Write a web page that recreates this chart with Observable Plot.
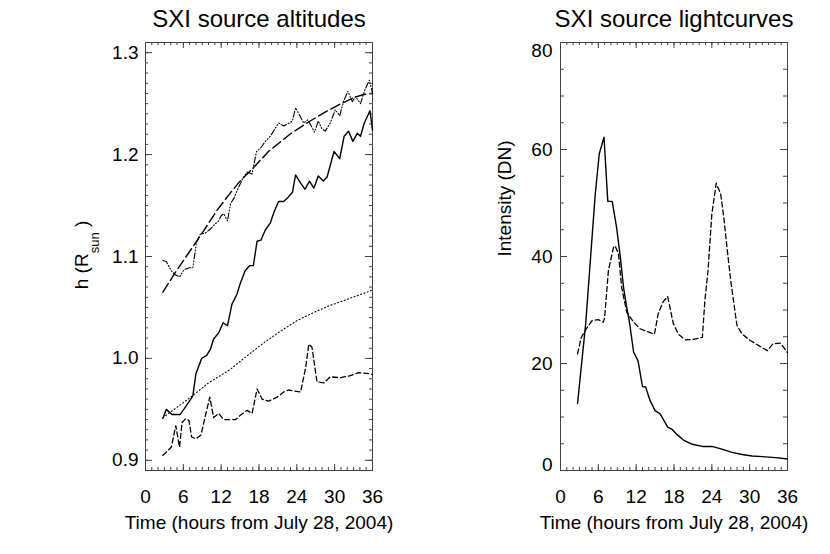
<!DOCTYPE html>
<html><head><meta charset="utf-8">
<script src="https://cdn.jsdelivr.net/npm/d3@7"></script>
<script src="https://cdn.jsdelivr.net/npm/@observablehq/plot@0.6"></script>
<style>
body{margin:0;background:#fff;}
#wrap{position:relative;width:830px;height:554px;background:#fff;}
#left,#right{position:absolute;top:0;}
#left{left:0;} #right{left:415px;}
</style></head><body>
<div id="wrap"><div id="left"></div><div id="right"></div></div>
<script>
// ---------- DATA (time in hours from July 28, 2004) ----------
// Left panel: SXI source altitudes, h in R_sun
const altSolid = [[2.76,0.941],[3.3,0.950],[4.2,0.945],[5.5,0.945],[6.3,0.952],[7.5,0.963],[8.0,0.985],[8.9,1.000],[9.7,1.003],[10.3,1.009],[10.8,1.019],[11.6,1.025],[12.3,1.035],[13.0,1.032],[13.7,1.053],[14.5,1.063],[15.0,1.073],[15.8,1.086],[16.5,1.091],[17.1,1.091],[17.7,1.115],[18.3,1.116],[19.0,1.126],[19.8,1.133],[20.4,1.144],[21.1,1.154],[21.9,1.154],[22.6,1.158],[23.3,1.163],[23.8,1.180],[24.6,1.172],[25.3,1.166],[26.0,1.174],[26.7,1.167],[27.4,1.179],[28.2,1.174],[28.8,1.178],[29.9,1.203],[30.8,1.196],[31.5,1.218],[32.2,1.223],[32.9,1.213],[33.6,1.221],[34.1,1.218],[34.7,1.231],[35.6,1.243],[36.0,1.224]];
const altDashDot = [[2.76,1.096],[3.3,1.095],[4.1,1.086],[4.7,1.082],[5.4,1.080],[6.1,1.087],[7.0,1.089],[7.5,1.089],[8.1,1.114],[8.7,1.122],[9.5,1.123],[10.3,1.127],[10.9,1.131],[11.6,1.135],[12.0,1.140],[12.4,1.142],[13.0,1.135],[13.5,1.152],[14.0,1.157],[14.7,1.167],[15.4,1.176],[16.1,1.183],[16.9,1.181],[17.6,1.203],[18.2,1.206],[19.0,1.213],[19.8,1.218],[20.3,1.223],[21.1,1.231],[21.9,1.228],[22.8,1.231],[23.3,1.233],[23.8,1.246],[24.4,1.239],[25.1,1.231],[25.7,1.234],[26.3,1.228],[26.8,1.222],[27.4,1.233],[28.0,1.225],[28.5,1.223],[29.3,1.231],[30.1,1.244],[30.8,1.238],[31.4,1.252],[32.1,1.262],[32.8,1.252],[33.3,1.257],[34.1,1.250],[34.7,1.262],[35.5,1.273],[36.0,1.260]];
const altLongDash = [[2.76,1.065],[4.9,1.086],[7.9,1.113],[9.2,1.125],[11.3,1.145],[13.4,1.162],[15.0,1.174],[17.1,1.187],[19.5,1.203],[22.9,1.220],[25.6,1.231],[28.3,1.241],[31.0,1.250],[33.1,1.256],[34.6,1.259],[36.0,1.260]];
const altDotted = [[2.76,0.942],[5.0,0.952],[7.6,0.964],[10.0,0.976],[13.4,0.989],[16.0,1.002],[18.7,1.015],[21.0,1.025],[24.0,1.037],[27.0,1.046],[29.3,1.052],[32.0,1.058],[36.0,1.067]];
const altDashed = [[2.76,0.905],[3.3,0.908],[4.1,0.913],[4.8,0.934],[5.4,0.913],[5.8,0.937],[6.4,0.941],[6.9,0.939],[7.3,0.923],[8.0,0.921],[8.8,0.925],[9.7,0.949],[10.2,0.962],[10.8,0.942],[11.6,0.946],[12.4,0.940],[14.3,0.940],[15.0,0.944],[16.1,0.949],[16.9,0.946],[17.7,0.970],[18.5,0.960],[19.5,0.958],[20.9,0.962],[21.9,0.967],[22.7,0.969],[24.6,0.967],[25.4,0.991],[25.9,1.014],[26.4,1.011],[27.2,0.977],[28.3,0.976],[29.3,0.982],[30.9,0.981],[32.5,0.983],[33.8,0.986],[35.7,0.985],[36.0,0.984]];

// Right panel: SXI source lightcurves, intensity in DN
const lcSolid = [[2.7,12.5],[4.0,27.5],[5.5,51.5],[6.15,59.2],[6.9,62.3],[7.5,50.3],[8.2,50.3],[8.9,45.4],[9.5,39.8],[10.0,34.2],[10.5,30.5],[10.9,28.0],[11.6,22.1],[12.3,20.5],[13.0,15.7],[13.5,15.6],[14.2,13.1],[15.0,11.2],[15.8,10.6],[17.0,8.1],[17.6,7.8],[18.5,6.7],[19.5,5.7],[20.9,4.9],[22.5,4.5],[24.0,4.5],[25.6,4.0],[27.2,3.4],[28.8,3.0],[30.4,2.7],[32.0,2.6],[34.1,2.4],[35.7,2.2],[36.0,2.2]];
const lcDashed = [[2.7,21.8],[3.3,24.9],[4.1,26.5],[5.0,28.0],[6.0,28.2],[6.8,27.7],[7.0,28.6],[7.6,37.4],[8.4,41.7],[8.65,42.0],[9.2,40.5],[9.7,34.2],[10.5,29.6],[11.6,27.7],[12.6,26.5],[13.7,26.0],[14.9,25.5],[15.5,29.3],[16.3,31.6],[17.0,32.5],[17.9,27.4],[18.7,25.5],[19.8,24.4],[21.1,24.5],[22.5,24.9],[22.9,31.8],[23.4,37.4],[24.0,47.9],[24.7,53.7],[25.4,51.7],[25.9,47.3],[26.4,41.7],[27.0,35.5],[27.8,28.6],[28.0,27.1],[28.8,25.5],[30.1,24.3],[31.5,23.3],[32.8,22.4],[33.7,23.7],[34.9,23.8],[35.7,22.5],[36.0,22.0]];

// Axes / ticks
const xDomain = [0, 36];
const xMajor = [0, 6, 12, 18, 24, 30, 36];
const xMinor = d3.range(0, 37, 1);
const altDomain = [0.89, 1.31];
const altMajor = [0.9, 1.0, 1.1, 1.2, 1.3];
const altMinor = d3.range(89, 132).map(v => v / 100);
const lcDomain = [0, 80];
const lcMajor = [0, 20, 40, 60, 80];
const lcMinor = d3.range(0, 81, 5);

const titles = ["SXI source altitudes", "SXI source lightcurves"];
const xLabel = "Time (hours from July 28, 2004)";
const lcYLabel = "Intensity (DN)";

// ---------- DRAWING ----------
const FONT = '"Liberation Sans", Arial, Helvetica, sans-serif';
const AX = "#444";

// inward tick marks on all four sides, drawn as zero-length rules extended by insets
function tickMarks(yDomain, yMajor, yMinor, minorY) {
  const [y0, y1] = yDomain, [x0, x1] = xDomain;
  const tx = (data, len) => [
    Plot.ruleX(data, {x: d => d, y1: y0, y2: y0, insetBottom: len, stroke: AX}),
    Plot.ruleX(data, {x: d => d, y1: y1, y2: y1, insetTop: len, stroke: AX})
  ];
  const ty = (data, len) => [
    Plot.ruleY(data, {y: d => d, x1: x0, x2: x0, insetLeft: len, stroke: AX}),
    Plot.ruleY(data, {y: d => d, x1: x1, x2: x1, insetRight: len, stroke: AX})
  ];
  return [...tx(xMinor, 3), ...tx(xMajor, 6), ...ty(yMinor, minorY), ...ty(yMajor, 7),
    Plot.axisX(xMajor, {anchor: "bottom", tickSize: 0, tickPadding: 19, fontSize: 19, label: null})];
}

function base(yDomain, marks) {
  return Plot.plot({
    width: 415, height: 554,
    marginLeft: 145, marginRight: 43, marginTop: 42, marginBottom: 84,
    x: {domain: xDomain},
    y: {domain: yDomain},
    style: {fontFamily: FONT, fontSize: "19px", background: "white", color: "black", overflow: "visible"},
    marks
  });
}

const lineOpts = (dash, w) => ({x: d => d[0], y: d => d[1], stroke: "black", strokeWidth: w, strokeDasharray: dash});

// Left panel
const left = base(altDomain, [
  Plot.frame({stroke: AX}),
  Plot.line(altDotted, lineOpts("1,2.5", 1.1)),
  Plot.line(altDashed, lineOpts("5,3", 1.3)),
  Plot.line(altLongDash, lineOpts("10,4", 1.4)),
  Plot.line(altDashDot, lineOpts("6,2,1,2,1,2,1,2", 1.1)),
  Plot.line(altSolid, lineOpts(null, 1.4)),
  ...tickMarks(altDomain, altMajor, altMinor, 3),
  Plot.axisY(altMajor, {anchor: "left", tickSize: 0, tickPadding: 7, fontSize: 19, tickFormat: d3.format(".1f"), label: null}),
  Plot.text([titles[0]], {frameAnchor: "top", lineAnchor: "middle", dy: -23, fontSize: 24}),
  Plot.text([xLabel], {frameAnchor: "bottom", lineAnchor: "middle", dy: 52, fontSize: 19})
]);
document.getElementById("left").appendChild(left);
// y label with subscript
{
  const t = d3.select(left).append("text")
    .attr("transform", "translate(88,255) rotate(-90)")
    .attr("text-anchor", "middle")
    .attr("font-family", FONT)
    .attr("font-size", 19)
    .attr("fill", "black");
  t.append("tspan").text("h (R");
  t.append("tspan").attr("font-size", 13).attr("dy", 11).text("sun");
  t.append("tspan").attr("dy", -11).text(" )");
}

// Right panel
const right = base(lcDomain, [
  Plot.frame({stroke: AX}),
  Plot.line(lcDashed, lineOpts("5,3", 1.3)),
  Plot.line(lcSolid, lineOpts(null, 1.4)),
  ...tickMarks(lcDomain, lcMajor, lcMinor, 4),
  Plot.axisY([20, 40, 60], {anchor: "left", tickSize: 0, tickPadding: 8, fontSize: 19, label: null}),
  Plot.axisY([0], {anchor: "left", tickSize: 0, tickPadding: 8, fontSize: 19, dy: -6, label: null}),
  Plot.axisY([80], {anchor: "left", tickSize: 0, tickPadding: 8, fontSize: 19, dy: 8, label: null}),
  Plot.text([titles[1]], {frameAnchor: "top", lineAnchor: "middle", dy: -23, fontSize: 24}),
  Plot.text([xLabel], {frameAnchor: "bottom", lineAnchor: "middle", dy: 52, fontSize: 19}),
  Plot.text([lcYLabel], {frameAnchor: "left", dx: -56, rotate: -90, fontSize: 19})
]);
document.getElementById("right").appendChild(right);
</script>
</body></html>
